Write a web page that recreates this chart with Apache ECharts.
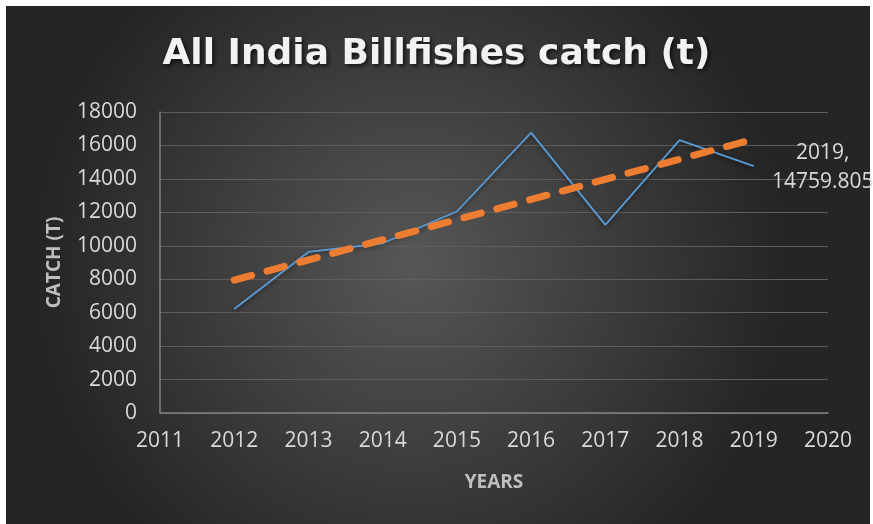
<!DOCTYPE html>
<html>
<head>
<meta charset="utf-8">
<script src="https://cdn.jsdelivr.net/npm/echarts@6/dist/echarts.min.js"></script>
<style>html,body{margin:0;padding:0;background:#fff}#c{width:873px;height:524px}</style>
</head>
<body>
<div id="c"></div>
<script>
var years = [2012, 2013, 2014, 2015, 2016, 2017, 2018, 2019];
var catchValues = [6220, 9630, 10150, 12050, 16770, 11250, 16320, 14759.805];
var trendYears = [2012, 2019];
var trendValues = [7950, 16380];
var yTicks = [0, 2000, 4000, 6000, 8000, 10000, 12000, 14000, 16000, 18000];
var xTicks = [2011, 2012, 2013, 2014, 2015, 2016, 2017, 2018, 2019, 2020];

var chart = echarts.init(document.getElementById('c'));
var font = '"Open Sans", sans-serif';
chart.setOption({
  animation: false,
  backgroundColor: '#ffffff',
  graphic: [{
    type: 'rect', z: -10, silent: true,
    shape: {x: 6, y: 6, width: 864, height: 518},
    style: {fill: {type: 'radial', x: 0.47, y: 0.5, r: 0.72,
      colorStops: [{offset: 0, color: '#575757'}, {offset: 1, color: '#252525'}]}}
  }],
  title: {
    text: 'All India Billfishes catch (t)',
    left: 'center', top: 32,
    textStyle: {color: '#f2f2f2', fontFamily: '"DejaVu Sans", sans-serif', fontWeight: 'bold', fontSize: 36,
      textShadowColor: 'rgba(0,0,0,0.7)', textShadowBlur: 4, textShadowOffsetX: 2, textShadowOffsetY: 2}
  },
  grid: {left: 160, right: 45, top: 112, bottom: 111},
  xAxis: {
    type: 'value', min: xTicks[0], max: xTicks[xTicks.length - 1], interval: 1,
    name: 'YEARS', nameLocation: 'middle', nameGap: 60,
    nameTextStyle: {color: '#bfbfbf', fontFamily: font, fontWeight: 'bold', fontSize: 19},
    axisLine: {show: true, lineStyle: {color: '#808080', width: 1.5}},
    axisTick: {show: false},
    splitLine: {show: false},
    axisLabel: {color: '#d9d9d9', fontFamily: font, fontSize: 21, margin: 18,
      formatter: function (v) { return String(v); }}
  },
  yAxis: {
    type: 'value', min: yTicks[0], max: yTicks[yTicks.length - 1], interval: 2000,
    name: 'CATCH (T)', nameLocation: 'middle', nameGap: 96,
    nameTextStyle: {color: '#bfbfbf', fontFamily: font, fontWeight: 'bold', fontSize: 19},
    axisLine: {show: true, lineStyle: {color: '#808080', width: 1.5}},
    axisTick: {show: false},
    splitLine: {show: true, lineStyle: {color: '#5e5e5e', width: 1.2}},
    axisLabel: {color: '#d9d9d9', fontFamily: font, fontSize: 21, margin: 23,
      formatter: function (v) { return String(v); }}
  },
  series: [{
    type: 'line',
    data: years.map(function (y, i) { return [y, catchValues[i]]; }),
    showSymbol: false,
    lineStyle: {color: '#5b9bd5', width: 1.8, shadowColor: 'rgba(0,0,0,0.5)', shadowBlur: 4, shadowOffsetY: 2},
    endLabel: {
      show: true, color: '#d9d9d9', fontFamily: font, fontSize: 21, lineHeight: 29,
      align: 'center', offset: [61, 1],
      formatter: function (p) { return p.value[0] + ',\n' + p.value[1]; }
    },
    z: 2
  }, {
    type: 'line',
    data: trendYears.map(function (y, i) { return [y, trendValues[i]]; }),
    showSymbol: false,
    lineStyle: {color: '#ed7d31', width: 7, type: [18, 16], cap: 'round'},
    z: 3
  }]
});
</script>
</body>
</html>
